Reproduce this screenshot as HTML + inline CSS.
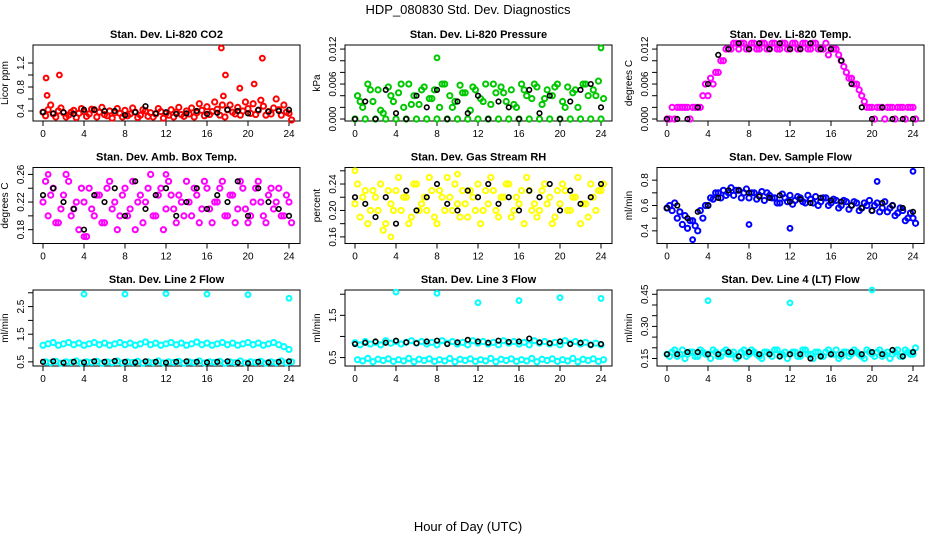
<!DOCTYPE html>
<html><head><meta charset="utf-8"><style>
body{margin:0;background:#fff;}
svg{display:block;font-family:"Liberation Sans",Arial,sans-serif;}
</style></head><body>
<svg id="chart" width="936" height="540" viewBox="0 0 936 540" xmlns="http://www.w3.org/2000/svg">
<rect width="936" height="540" fill="#fff"/>
<text x="468" y="14" text-anchor="middle" font-size="13">HDP_080830  Std. Dev. Diagnostics</text>
<text x="468" y="531" text-anchor="middle" font-size="13">Hour of Day (UTC)</text>
<g id="panels"></g>
</svg>
<script>
const titles=["Stan. Dev. Li-820 CO2","Stan. Dev. Li-820 Pressure","Stan. Dev. Li-820 Temp.","Stan. Dev. Amb. Box Temp.","Stan. Dev. Gas Stream RH","Stan. Dev. Sample Flow","Stan. Dev. Line 2 Flow","Stan. Dev. Line 3 Flow","Stan. Dev. Line 4 (LT) Flow"];
const yTitles=["Licor ppm","kPa","degrees C","degrees C","percent","ml/min","ml/min","ml/min","ml/min"];
const colors=["#ff0000","#00c800","#ff00ff","#ff00ff","#ffff00","#0000ff","#00ffff","#00ffff","#00ffff"];
const xTicks=[0,4,8,12,16,20,24];
const yDomains=[[0.233,1.5],[-0.00034,0.0127],[-0.00034,0.0127],[0.16,0.27],[0.15,0.265],[0.3,0.9],[0.35,3.1],[0.3,2.1],[0.115,0.47]];
const yTicks=[[0.4,0.6,0.8,1.0,1.2],[0,0.002,0.004,0.006,0.008,0.01,0.012],[0,0.002,0.004,0.006,0.008,0.01,0.012],[0.18,0.2,0.22,0.24,0.26],[0.16,0.18,0.2,0.22,0.24,0.26],[0.4,0.5,0.6,0.7,0.8],[0.5,1.0,1.5,2.0,2.5,3.0],[0.5,1.0,1.5,2.0],[0.15,0.2,0.25,0.3,0.35,0.4,0.45]];
const yTickLabels=[["0.4","","0.8","","1.2"],["0.000","","","0.006","","","0.012"],["0.000","","","0.006","","","0.012"],["0.18","","0.22","","0.26"],["0.16","","0.20","","0.24",""],["0.4","","0.6","","0.8"],["0.5","","1.5","","2.5",""],["0.5","","1.5",""],["0.15","","","0.30","","","0.45"]];

const colA=[
[0.38,0.42,0.35,0.4,0.37,0.33,0.41,0.36,0.39,0.35,0.42,0.38,0.34,0.4,0.37,0.36,0.41,0.35,0.38,0.33,0.4,0.37,0.35,0.39,0.36,0.42,0.38,0.34,0.4,0.45,0.37,0.41,0.47,0.39,0.43,0.5,0.42,0.38,0.46,0.4,0.44,0.52,0.41,0.48,0.39,0.45,0.42,0.5,0.36],
[0,0.003,0,0.005,0,0.0015,0,0.004,0,0.006,0,0.0025,0,0.005,0,0.0035,0,0.006,0,0.002,0,0.0045,0,0.0055,0,0.003,0,0.006,0,0.0045,0,0.0025,0,0.005,0,0.006,0,0.0035,0,0.0055,0,0.002,0,0.005,0,0.006,0,0.004,0],
[0,0.002,0.002,0.002,0.002,0.002,0.002,0.004,0.004,0.006,0.008,0.01,0.012,0.013,0.012,0.013,0.012,0.013,0.012,0.013,0.012,0.013,0.012,0.013,0.012,0.013,0.012,0.013,0.012,0.013,0.012,0.013,0.012,0.012,0.01,0.008,0.007,0.006,0.004,0.002,0.002,0.002,0.002,0.002,0.002,0.002,0.002,0.002,0.002],
[0.22,0.2,0.24,0.19,0.23,0.25,0.21,0.18,0.22,0.24,0.2,0.23,0.19,0.25,0.22,0.2,0.24,0.21,0.18,0.23,0.22,0.26,0.2,0.24,0.21,0.23,0.19,0.22,0.25,0.2,0.23,0.21,0.24,0.19,0.22,0.25,0.2,0.23,0.21,0.24,0.19,0.22,0.25,0.2,0.23,0.21,0.24,0.2,0.22],
[0.21,0.19,0.23,0.2,0.22,0.24,0.18,0.21,0.23,0.2,0.22,0.19,0.24,0.21,0.2,0.23,0.18,0.22,0.25,0.2,0.21,0.23,0.19,0.22,0.24,0.2,0.21,0.23,0.19,0.22,0.24,0.2,0.21,0.18,0.23,0.21,0.2,0.24,0.22,0.19,0.21,0.23,0.2,0.22,0.18,0.21,0.24,0.2,0.23],
[0.58,0.56,0.5,0.45,0.42,0.48,0.4,0.5,0.6,0.65,0.7,0.72,0.7,0.68,0.72,0.7,0.66,0.7,0.68,0.64,0.68,0.66,0.62,0.66,0.68,0.64,0.66,0.62,0.65,0.67,0.63,0.66,0.62,0.64,0.6,0.63,0.6,0.62,0.58,0.6,0.56,0.62,0.58,0.55,0.6,0.54,0.56,0.5,0.5],
[1.1,1.15,1.2,1.1,1.15,1.2,1.12,1.18,1.1,1.15,1.2,1.12,1.18,1.1,1.15,1.2,1.12,1.18,1.1,1.15,1.22,1.12,1.18,1.1,1.15,1.2,1.12,1.18,1.1,1.15,1.22,1.12,1.18,1.1,1.15,1.2,1.12,1.18,1.1,1.15,1.2,1.12,1.18,1.1,1.15,1.2,1.12,1.05,0.95],
[0.85,0.8,0.88,0.82,0.86,0.8,0.9,0.84,0.88,0.82,0.86,0.9,0.84,0.88,0.82,0.86,0.8,0.9,0.84,0.88,0.82,0.86,0.8,0.9,0.84,0.88,0.82,0.86,0.8,0.9,0.84,0.88,0.82,0.86,0.8,0.9,0.84,0.88,0.82,0.86,0.8,0.9,0.84,0.88,0.82,0.86,0.8,0.84,0.8],
[0.17,0.18,0.16,0.19,0.17,0.18,0.16,0.18,0.17,0.19,0.16,0.18,0.17,0.18,0.16,0.19,0.17,0.18,0.16,0.18,0.17,0.19,0.16,0.18,0.17,0.18,0.16,0.19,0.17,0.18,0.16,0.18,0.17,0.19,0.16,0.18,0.17,0.18,0.16,0.19,0.17,0.18,0.16,0.18,0.17,0.19,0.16,0.18,0.17]];
const colB=[
[0.32,0.5,0.3,0.45,0.3,0.38,0.29,0.44,0.31,0.43,0.3,0.46,0.32,0.28,0.44,0.3,0.32,0.45,0.29,0.42,0.31,0.3,0.44,0.28,0.33,0.3,0.46,0.31,0.35,0.3,0.52,0.32,0.34,0.55,0.33,0.3,0.5,0.35,0.33,0.55,0.36,0.34,0.58,0.33,0.35,0.6,0.33,0.38,0.25],
[0.004,0.002,0.006,0.003,0.005,0.001,0.0055,0.003,0.0045,0.002,0.006,0.004,0.0025,0.0055,0.0035,0.005,0.002,0.006,0.004,0.003,0.0058,0.0045,0.0015,0.005,0.0035,0.006,0.0025,0.0045,0.0055,0.003,0.005,0.002,0.006,0.004,0.0035,0.0055,0.0025,0.005,0.004,0.006,0.003,0.0055,0.0045,0.002,0.006,0.004,0.005,0.0065,0.0035],
[0,0,0.002,0.002,0,0.002,0.002,0.006,0.007,0.008,0.01,0.012,0.012,0.013,0.013,0.012,0.013,0.012,0.013,0.012,0.013,0.012,0.013,0.012,0.013,0.012,0.013,0.012,0.013,0.012,0.012,0.011,0.012,0.011,0.009,0.007,0.006,0.005,0.003,0.002,0,0.002,0,0.002,0,0.002,0,0.002,0],
[0.25,0.23,0.19,0.21,0.26,0.2,0.22,0.24,0.17,0.21,0.23,0.19,0.24,0.21,0.18,0.23,0.2,0.25,0.22,0.19,0.24,0.2,0.23,0.18,0.25,0.21,0.23,0.2,0.22,0.24,0.19,0.25,0.21,0.22,0.24,0.2,0.23,0.19,0.25,0.21,0.2,0.24,0.22,0.19,0.24,0.22,0.2,0.23,0.19],
[0.24,0.22,0.18,0.23,0.2,0.17,0.23,0.2,0.25,0.22,0.18,0.24,0.2,0.22,0.25,0.19,0.23,0.2,0.22,0.24,0.19,0.21,0.23,0.2,0.18,0.23,0.25,0.2,0.22,0.24,0.19,0.22,0.23,0.25,0.2,0.19,0.23,0.21,0.18,0.23,0.24,0.2,0.22,0.25,0.21,0.19,0.22,0.23,0.24],
[0.6,0.62,0.55,0.52,0.48,0.44,0.56,0.6,0.66,0.7,0.66,0.68,0.74,0.72,0.66,0.73,0.7,0.65,0.71,0.7,0.66,0.62,0.69,0.63,0.61,0.67,0.63,0.68,0.62,0.6,0.66,0.6,0.65,0.58,0.64,0.57,0.63,0.56,0.62,0.64,0.6,0.55,0.63,0.58,0.52,0.58,0.48,0.54,0.46],
[0.5,0.47,0.52,0.45,0.5,0.48,0.53,0.46,0.5,0.48,0.52,0.45,0.5,0.47,0.53,0.46,0.5,0.48,0.52,0.45,0.5,0.47,0.53,0.46,0.5,0.48,0.52,0.45,0.5,0.47,0.53,0.46,0.5,0.48,0.52,0.45,0.5,0.47,0.53,0.46,0.5,0.48,0.52,0.45,0.5,0.47,0.53,0.46,0.5],
[0.45,0.42,0.48,0.4,0.46,0.43,0.47,0.41,0.45,0.42,0.48,0.4,0.46,0.43,0.47,0.41,0.45,0.42,0.48,0.4,0.46,0.43,0.47,0.41,0.45,0.42,0.48,0.4,0.46,0.43,0.47,0.41,0.45,0.42,0.48,0.4,0.46,0.43,0.47,0.41,0.45,0.42,0.48,0.4,0.46,0.43,0.47,0.41,0.45],
[0.16,0.19,0.17,0.15,0.18,0.16,0.19,0.17,0.15,0.18,0.16,0.19,0.17,0.15,0.18,0.16,0.19,0.17,0.15,0.18,0.16,0.19,0.17,0.15,0.18,0.16,0.19,0.17,0.15,0.18,0.16,0.19,0.17,0.15,0.18,0.16,0.19,0.17,0.15,0.18,0.16,0.19,0.17,0.15,0.18,0.16,0.19,0.17,0.2]];
const blackY=[
[0.38,0.36,0.38,0.35,0.42,0.42,0.4,0.4,0.33,0.38,0.48,0.36,0.38,0.35,0.36,0.4,0.35,0.37,0.42,0.4,0.36,0.42,0.39,0.4,0.42],
[0,0.003,0,0.005,0.001,0,0.004,0.002,0.005,0,0.003,0.001,0.004,0,0.003,0.002,0,0.005,0.001,0.004,0,0.003,0.005,0.006,0.002],
[0,0,0,0.002,0.006,0.011,0.012,0.013,0.012,0.013,0.012,0.013,0.012,0.012,0.013,0.012,0.012,0.01,0.006,0.002,0,0.002,0,0,0],
[0.23,0.24,0.22,0.21,0.18,0.23,0.22,0.24,0.2,0.25,0.21,0.23,0.24,0.2,0.22,0.24,0.21,0.23,0.22,0.25,0.2,0.24,0.22,0.21,0.2],
[0.22,0.21,0.19,0.22,0.18,0.23,0.2,0.22,0.24,0.21,0.2,0.23,0.22,0.24,0.21,0.22,0.2,0.23,0.22,0.24,0.2,0.23,0.21,0.22,0.24],
[0.58,0.6,0.5,0.55,0.6,0.66,0.72,0.72,0.7,0.67,0.66,0.68,0.63,0.65,0.62,0.66,0.64,0.63,0.6,0.58,0.56,0.62,0.6,0.58,0.55],
[0.5,0.52,0.47,0.5,0.48,0.52,0.5,0.53,0.5,0.48,0.52,0.5,0.47,0.5,0.52,0.5,0.48,0.5,0.52,0.47,0.45,0.5,0.48,0.5,0.52],
[0.82,0.85,0.88,0.85,0.9,0.86,0.84,0.88,0.9,0.82,0.86,0.92,0.88,0.85,0.9,0.87,0.88,0.95,0.86,0.84,0.88,0.82,0.85,0.8,0.82],
[0.17,0.17,0.18,0.18,0.17,0.17,0.18,0.16,0.18,0.17,0.17,0.16,0.17,0.17,0.15,0.16,0.17,0.17,0.18,0.17,0.18,0.17,0.19,0.16,0.18]];
const outX=[[0.3,0.4,1.6,17.4,17.8,17.6,19.2,20.6,21.4],[8,24],[],[0.5,4,12],[0,3.5,10],[2.5,8,12,20.5,24],[4,8,12,16,20,24],[4,8,12,16,20,24],[4,12,20]];
const outY=[[0.95,0.66,1.0,1.45,1.0,0.65,0.78,0.85,1.28],[0.0105,0.0122],[],[0.26,0.17,0.26],[0.26,0.16,0.255],[0.33,0.45,0.42,0.79,0.87],[2.95,2.95,2.97,2.95,2.93,2.8],[2.05,2.02,1.8,1.85,1.92,1.9],[0.42,0.41,0.47]];

const NS="http://www.w3.org/2000/svg";
const root=document.getElementById('panels');
function mk(tag,attrs,parent){const e=document.createElementNS(NS,tag);for(const k in attrs)e.setAttribute(k,attrs[k]);parent.appendChild(e);return e;}
const PW=267,PH=76;
for(let p=0;p<9;p++){
  const L=33+(p%3)*312, T=45+Math.floor(p/3)*122.5, R=L+PW, B=T+PH;
  const xs=v=>L+10+v*(PW-21)/24;
  const [d0,d1]=yDomains[p];
  const ys=v=>B-(v-d0)/(d1-d0)*PH;
  const g=mk('g',{},root);
  
  
  const t=mk('text',{x:L+PW/2,y:T-7,'text-anchor':'middle','font-size':11,'font-weight':'bold'},g);
  t.textContent=titles[p];
  
  
  const yt=mk('text',{x:L-25,y:T+PH/2,'text-anchor':'middle','font-size':10,transform:`rotate(-90 ${L-25} ${T+PH/2})`},g);
  yt.textContent=yTitles[p];
  
  
  const ax=mk('g',{stroke:'#000','stroke-width':1,fill:'none'},g);
  
  
  mk('rect',{x:L,y:T,width:PW,height:PH},ax);
  xTicks.forEach(v=>{
    mk('line',{x1:xs(v),x2:xs(v),y1:B,y2:B+5},ax);
    const lt=mk('text',{x:xs(v),y:B+16,'text-anchor':'middle','font-size':10},g);
    lt.textContent=v;
    
    
  });
  const yk=yTicks[p];
  yk.forEach((v,i)=>{
    mk('line',{x1:L-5,x2:L,y1:ys(v),y2:ys(v)},ax);
    const s=yTickLabels[p][i];
    if(s){
      const lt=mk('text',{x:L-9,y:ys(v),'text-anchor':'middle','font-size':10,transform:`rotate(-90 ${L-9} ${ys(v)})`},g);
      lt.textContent=s;
      
      
    }
  });
  const cg=mk('g',{fill:'none',stroke:colors[p],'stroke-width':2},g);
  
  
  colA[p].forEach((v,i)=>{const c=mk('circle',{cx:xs(i*0.5),cy:ys(v),r:2.6},cg);});
  colB[p].forEach((v,i)=>{const c=mk('circle',{cx:xs(i*0.5+0.25),cy:ys(v),r:2.6},cg);});
  outX[p].forEach((v,i)=>{const c=mk('circle',{cx:xs(v),cy:ys(outY[p][i]),r:2.4},cg);});
  const bg=mk('g',{fill:'none',stroke:'#000','stroke-width':1.6},g);
  
  
  blackY[p].forEach((v,i)=>{const c=mk('circle',{cx:xs(i),cy:ys(v),r:2.3},bg);});
}
</script>
</body></html>
